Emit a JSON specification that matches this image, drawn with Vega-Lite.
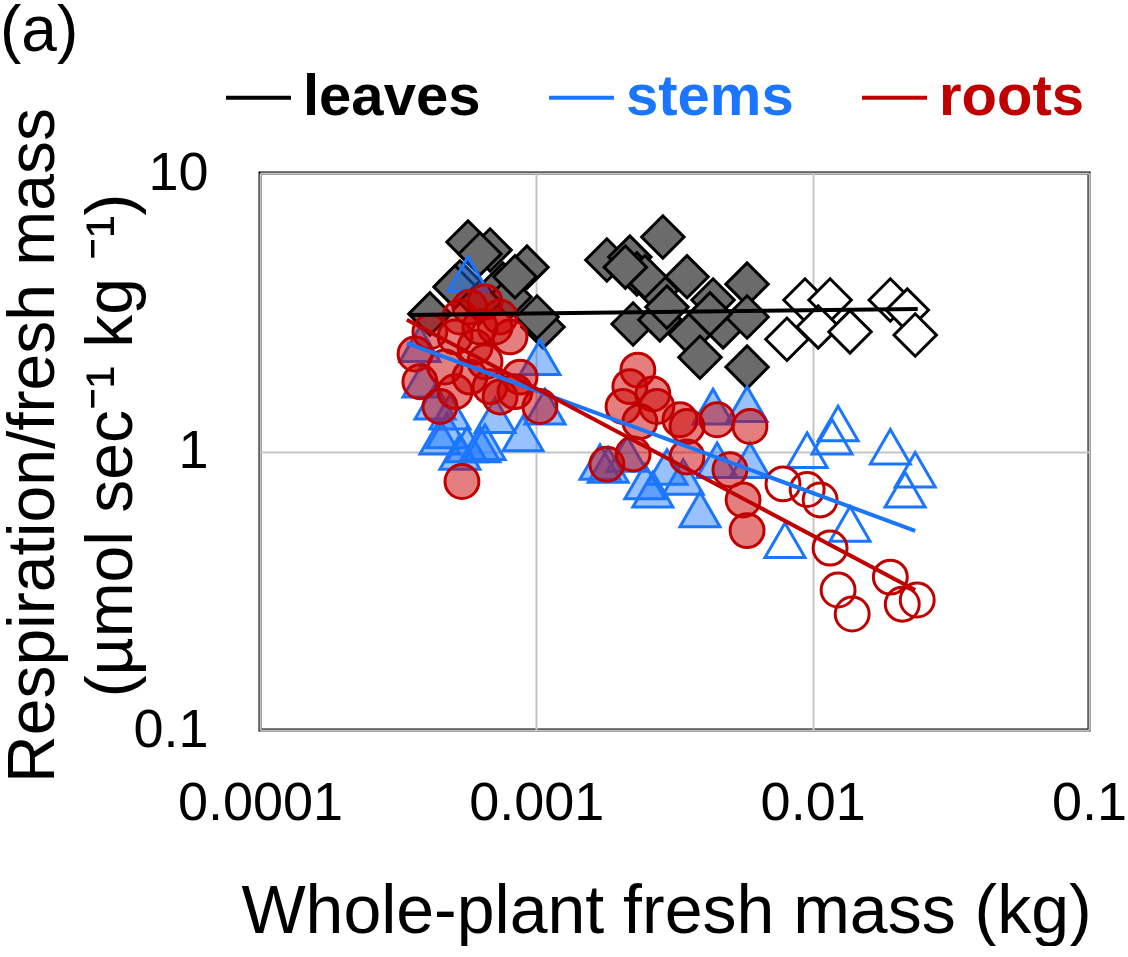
{
  "$schema": "https://vega.github.io/schema/vega-lite/v6.json",
  "width": 829,
  "height": 557,
  "padding": 0,
  "autosize": {"type": "pad"},
  "background": "white",
  "title": {"text": "(a)", "anchor": "start", "frame": "bounds", "fontSize": 64, "fontWeight": "normal", "color": "black", "font": "Liberation Sans", "baseline": "alphabetic", "offset": -52},
  "config": {"font": "Liberation Sans", "view": {"stroke": "black", "strokeWidth": 3}},
  "datasets": {
    "pts": [
      {"organ":"leaves","cls":"small","mass":0.000566,"resp":5.65},
      {"organ":"leaves","cls":"small","mass":0.00068,"resp":5.29},
      {"organ":"leaves","cls":"small","mass":0.000625,"resp":5.12},
      {"organ":"leaves","cls":"small","mass":0.000925,"resp":4.59},
      {"organ":"leaves","cls":"small","mass":0.000529,"resp":4.06},
      {"organ":"leaves","cls":"small","mass":0.000412,"resp":3.12},
      {"organ":"leaves","cls":"small","mass":0.001057,"resp":2.80},
      {"organ":"leaves","cls":"small","mass":0.001006,"resp":3.04},
      {"organ":"leaves","cls":"small","mass":0.000757,"resp":3.99},
      {"organ":"leaves","cls":"small","mass":0.000508,"resp":3.90},
      {"organ":"leaves","cls":"small","mass":0.000803,"resp":3.59},
      {"organ":"leaves","cls":"small","mass":0.000625,"resp":3.44},
      {"organ":"leaves","cls":"small","mass":0.000837,"resp":4.24},
      {"organ":"leaves","cls":"small","mass":0.0018,"resp":4.87},
      {"organ":"leaves","cls":"small","mass":0.00218,"resp":4.99},
      {"organ":"leaves","cls":"small","mass":0.00287,"resp":5.89},
      {"organ":"leaves","cls":"small","mass":0.00231,"resp":4.34},
      {"organ":"leaves","cls":"small","mass":0.00351,"resp":4.24},
      {"organ":"leaves","cls":"small","mass":0.00273,"resp":3.80},
      {"organ":"leaves","cls":"small","mass":0.00224,"resp":2.87},
      {"organ":"leaves","cls":"small","mass":0.0028,"resp":2.97},
      {"organ":"leaves","cls":"small","mass":0.00436,"resp":3.50},
      {"organ":"leaves","cls":"small","mass":0.00579,"resp":3.99},
      {"organ":"leaves","cls":"small","mass":0.0036,"resp":2.64},
      {"organ":"leaves","cls":"small","mass":0.00474,"resp":2.80},
      {"organ":"leaves","cls":"small","mass":0.00391,"resp":2.18},
      {"organ":"leaves","cls":"small","mass":0.00579,"resp":3.04},
      {"organ":"leaves","cls":"small","mass":0.00579,"resp":2.01},
      {"organ":"leaves","cls":"small","mass":0.00425,"resp":3.12},
      {"organ":"leaves","cls":"small","mass":0.00247,"resp":4.24},
      {"organ":"leaves","cls":"small","mass":0.0021,"resp":4.59},
      {"organ":"leaves","cls":"small","mass":0.00297,"resp":3.30},
      {"organ":"leaves","cls":"large","mass":0.00938,"resp":3.50},
      {"organ":"leaves","cls":"large","mass":0.01156,"resp":3.50},
      {"organ":"leaves","cls":"large","mass":0.0191,"resp":3.50},
      {"organ":"leaves","cls":"large","mass":0.022,"resp":3.22},
      {"organ":"leaves","cls":"large","mass":0.00807,"resp":2.53},
      {"organ":"leaves","cls":"large","mass":0.01047,"resp":2.80},
      {"organ":"leaves","cls":"large","mass":0.01365,"resp":2.69},
      {"organ":"leaves","cls":"large","mass":0.0235,"resp":2.62},
      {"organ":"stems","cls":"small","mass":0.000566,"resp":4.34},
      {"organ":"stems","cls":"small","mass":0.00103,"resp":2.18},
      {"organ":"stems","cls":"small","mass":0.000389,"resp":1.81},
      {"organ":"stems","cls":"small","mass":0.000379,"resp":2.43},
      {"organ":"stems","cls":"small","mass":0.000895,"resp":1.16},
      {"organ":"stems","cls":"small","mass":0.000475,"resp":1.19},
      {"organ":"stems","cls":"small","mass":0.000561,"resp":1.06},
      {"organ":"stems","cls":"small","mass":0.000625,"resp":1.06},
      {"organ":"stems","cls":"small","mass":0.000448,"resp":1.13},
      {"organ":"stems","cls":"small","mass":0.00043,"resp":1.51},
      {"organ":"stems","cls":"small","mass":0.000487,"resp":1.39},
      {"organ":"stems","cls":"small","mass":0.000529,"resp":0.996},
      {"organ":"stems","cls":"small","mass":0.000652,"resp":1.08},
      {"organ":"stems","cls":"small","mass":0.001075,"resp":1.45},
      {"organ":"stems","cls":"small","mass":0.000709,"resp":1.35},
      {"organ":"stems","cls":"small","mass":0.00436,"resp":1.45},
      {"organ":"stems","cls":"small","mass":0.00579,"resp":1.48},
      {"organ":"stems","cls":"small","mass":0.00182,"resp":0.895},
      {"organ":"stems","cls":"small","mass":0.00264,"resp":0.73},
      {"organ":"stems","cls":"small","mass":0.00391,"resp":0.62},
      {"organ":"stems","cls":"small","mass":0.00593,"resp":0.93},
      {"organ":"stems","cls":"small","mass":0.0034,"resp":0.81},
      {"organ":"stems","cls":"small","mass":0.00213,"resp":0.98},
      {"organ":"stems","cls":"small","mass":0.00297,"resp":0.88},
      {"organ":"stems","cls":"small","mass":0.00451,"resp":0.93},
      {"organ":"stems","cls":"small","mass":0.00247,"resp":0.78},
      {"organ":"stems","cls":"small","mass":0.0017,"resp":0.917},
      {"organ":"stems","cls":"large","mass":0.01236,"resp":1.26},
      {"organ":"stems","cls":"large","mass":0.01175,"resp":1.13},
      {"organ":"stems","cls":"large","mass":0.00955,"resp":1.01},
      {"organ":"stems","cls":"large","mass":0.0191,"resp":1.04},
      {"organ":"stems","cls":"large","mass":0.0235,"resp":0.86},
      {"organ":"stems","cls":"large","mass":0.0216,"resp":0.73},
      {"organ":"stems","cls":"large","mass":0.01365,"resp":0.55},
      {"organ":"stems","cls":"large","mass":0.00794,"resp":0.48},
      {"organ":"roots","cls":"small","mass":0.000412,"resp":2.69},
      {"organ":"roots","cls":"small","mass":0.000467,"resp":2.01},
      {"organ":"roots","cls":"small","mass":0.000529,"resp":3.04},
      {"organ":"roots","cls":"small","mass":0.000575,"resp":3.30},
      {"organ":"roots","cls":"small","mass":0.000652,"resp":3.44},
      {"organ":"roots","cls":"small","mass":0.000739,"resp":3.04},
      {"organ":"roots","cls":"small","mass":0.000803,"resp":2.58},
      {"organ":"roots","cls":"small","mass":0.0006,"resp":2.37},
      {"organ":"roots","cls":"small","mass":0.000508,"resp":1.64},
      {"organ":"roots","cls":"small","mass":0.00068,"resp":1.71},
      {"organ":"roots","cls":"small","mass":0.000873,"resp":1.85},
      {"organ":"roots","cls":"small","mass":0.00103,"resp":1.45},
      {"organ":"roots","cls":"small","mass":0.000364,"resp":2.24},
      {"organ":"roots","cls":"small","mass":0.000448,"resp":1.45},
      {"organ":"roots","cls":"small","mass":0.000739,"resp":1.57},
      {"organ":"roots","cls":"small","mass":0.000575,"resp":1.85},
      {"organ":"roots","cls":"small","mass":0.000652,"resp":2.10},
      {"organ":"roots","cls":"small","mass":0.000508,"resp":2.58},
      {"organ":"roots","cls":"small","mass":0.000709,"resp":2.80},
      {"organ":"roots","cls":"small","mass":0.000837,"resp":1.64},
      {"organ":"roots","cls":"small","mass":0.000538,"resp":0.78},
      {"organ":"roots","cls":"small","mass":0.000379,"resp":1.78},
      {"organ":"roots","cls":"small","mass":0.000625,"resp":2.80},
      {"organ":"roots","cls":"small","mass":0.00233,"resp":1.96},
      {"organ":"roots","cls":"small","mass":0.00218,"resp":1.71},
      {"organ":"roots","cls":"small","mass":0.00264,"resp":1.61},
      {"organ":"roots","cls":"small","mass":0.00331,"resp":1.30},
      {"organ":"roots","cls":"small","mass":0.00451,"resp":1.30},
      {"organ":"roots","cls":"small","mass":0.00593,"resp":1.23},
      {"organ":"roots","cls":"small","mass":0.00206,"resp":1.45},
      {"organ":"roots","cls":"small","mass":0.00273,"resp":1.45},
      {"organ":"roots","cls":"small","mass":0.00237,"resp":1.28},
      {"organ":"roots","cls":"small","mass":0.0018,"resp":0.90},
      {"organ":"roots","cls":"small","mass":0.00224,"resp":0.98},
      {"organ":"roots","cls":"small","mass":0.00351,"resp":0.955},
      {"organ":"roots","cls":"small","mass":0.00502,"resp":0.86},
      {"organ":"roots","cls":"small","mass":0.0056,"resp":0.67},
      {"organ":"roots","cls":"small","mass":0.00579,"resp":0.52},
      {"organ":"roots","cls":"small","mass":0.00351,"resp":1.23},
      {"organ":"roots","cls":"large","mass":0.00781,"resp":0.765},
      {"organ":"roots","cls":"large","mass":0.00955,"resp":0.73},
      {"organ":"roots","cls":"large","mass":0.01064,"resp":0.67},
      {"organ":"roots","cls":"large","mass":0.01156,"resp":0.45},
      {"organ":"roots","cls":"large","mass":0.01236,"resp":0.318},
      {"organ":"roots","cls":"large","mass":0.0139,"resp":0.261},
      {"organ":"roots","cls":"large","mass":0.0191,"resp":0.354},
      {"organ":"roots","cls":"large","mass":0.0211,"resp":0.283},
      {"organ":"roots","cls":"large","mass":0.0239,"resp":0.293}
    ],
    "fits": [
      {"organ":"leaves","mass":0.000349,"resp":3.09},
      {"organ":"leaves","mass":0.024,"resp":3.25},
      {"organ":"stems","mass":0.00034,"resp":2.45},
      {"organ":"stems","mass":0.0235,"resp":0.519},
      {"organ":"roots","mass":0.00034,"resp":2.97},
      {"organ":"roots","mass":0.0235,"resp":0.318}
    ]
  },
  "encoding": {
    "x": {"field": "mass", "type": "quantitative",
      "scale": {"type": "log", "domain": [0.0001, 0.1], "nice": false},
      "axis": {"title": "Whole-plant fresh mass (kg)", "values": [0.0001, 0.001, 0.01, 0.1], "format": "~g",
        "grid": true, "gridColor": "#c4c4c4", "gridWidth": 2, "ticks": false, "tickSize": 0, "domain": false,
        "labelFontSize": 54, "labelColor": "black", "labelPadding": 89, "labelBaseline": "alphabetic",
        "labelFlush": false, "labelOverlap": false,
        "titleFontSize": 68, "titleFontWeight": "normal", "titleColor": "black",
        "titleBaseline": "alphabetic", "titleY": 202, "titleX": 406}},
    "y": {"field": "resp", "type": "quantitative",
      "scale": {"type": "log", "domain": [0.1, 10], "nice": false},
      "axis": {"title": ["Respiration/fresh mass", "(µmol sec⁻¹ kg ⁻¹)"], "values": [0.1, 1, 10], "format": "~g",
        "grid": true, "gridColor": "#c4c4c4", "gridWidth": 2, "ticks": false, "tickSize": 0, "domain": false,
        "labelFontSize": 54, "labelColor": "black", "labelPadding": 52, "labelFlush": false, "labelOverlap": false,
        "titleFontSize": 66, "titleFontWeight": "normal", "titleColor": "black",
        "titleAngle": 270, "titleBaseline": "top", "titleAlign": "center", "titleX": -259, "titleY": 272, "titleLineHeight": 78}}
  },
  "layer": [
    {
      "data": {"name": "pts"},
      "transform": [{"filter": "datum.organ === 'leaves'"}],
      "mark": {"type": "point", "shape": "diamond", "size": 1800, "filled": true, "opacity": 1, "stroke": "black", "strokeWidth": 3},
      "encoding": {"fill": {"condition": {"test": "datum.cls === 'small'", "value": "#6b6b6b"}, "value": "white"}}
    },
    {
      "data": {"name": "pts"},
      "transform": [{"filter": "datum.organ === 'stems'"}],
      "mark": {"type": "point", "shape": "triangle-up", "size": 1600, "filled": true, "opacity": 1, "stroke": "#1a75ff", "strokeWidth": 3},
      "encoding": {"fill": {"condition": {"test": "datum.cls === 'small'", "value": "rgba(26,117,255,0.45)"}, "value": "rgba(255,255,255,0)"}}
    },
    {
      "data": {"name": "pts"},
      "transform": [{"filter": "datum.organ === 'roots'"}],
      "mark": {"type": "point", "shape": "circle", "size": 1150, "filled": true, "opacity": 1, "stroke": "#c00000", "strokeWidth": 3},
      "encoding": {"fill": {"condition": {"test": "datum.cls === 'small'", "value": "rgba(204,0,0,0.5)"}, "value": "rgba(255,255,255,0)"}}
    },
    {
      "data": {"name": "fits"},
      "mark": {"type": "line", "strokeWidth": 4},
      "encoding": {
        "color": {"field": "organ", "type": "nominal",
          "scale": {"domain": ["leaves", "stems", "roots"], "range": ["black", "#1a75ff", "#c00000"]},
          "legend": {"title": null, "orient": "none", "legendX": -36, "legendY": -110, "direction": "horizontal",
            "symbolType": "stroke", "symbolSize": 4225, "symbolStrokeWidth": 4,
            "labelFontSize": 58, "labelFontWeight": "bold", "labelFont": "Liberation Sans", "labelOffset": 10,
            "columnPadding": 60, "labelLimit": 400,
            "encode": {"labels": {"update": {"fill": {"scale": "color", "field": "value"}}}}}}
      }
    }
  ]
}
